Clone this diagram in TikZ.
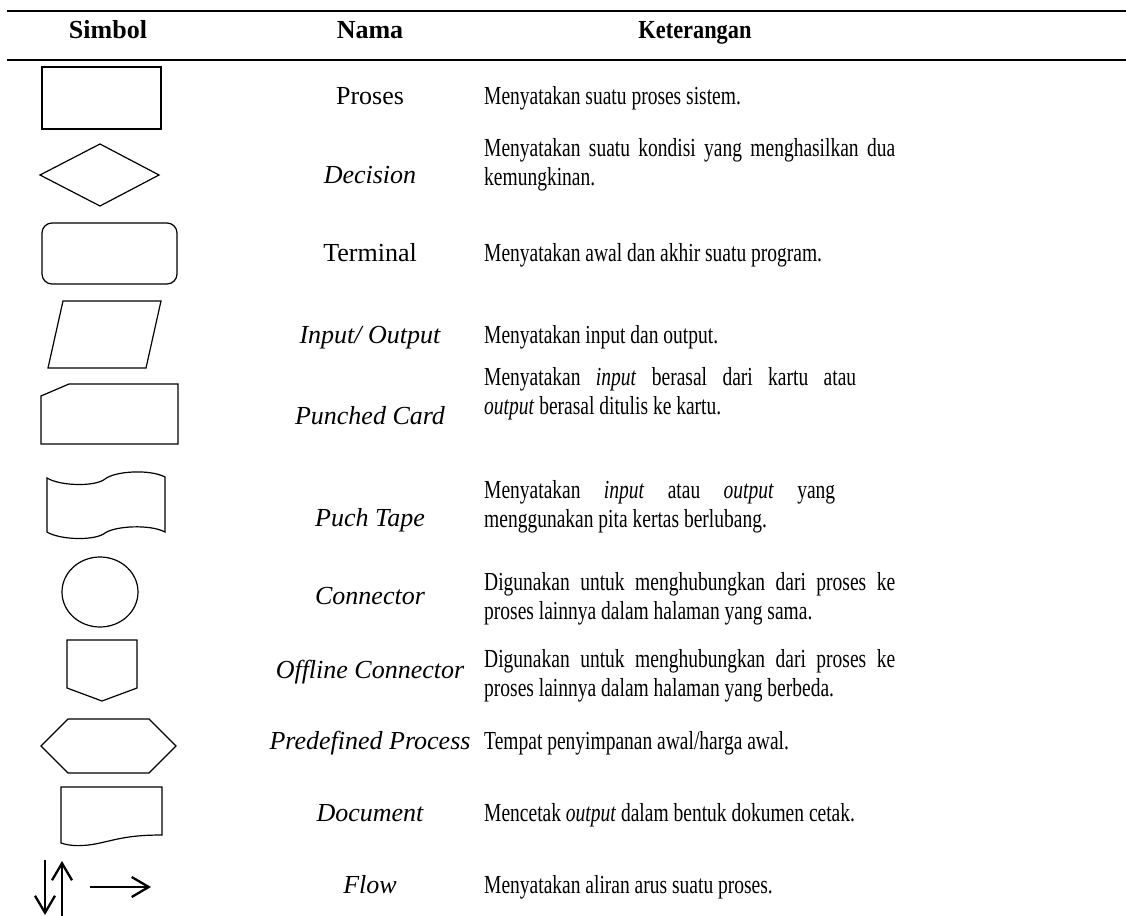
\documentclass[tikz,border=0pt]{standalone}
\usepackage{fontspec}
\setmainfont{Liberation Serif}
\usetikzlibrary{arrows.meta}
% condensed description text: #1 = box width, #2 = text
\newcommand\narrowpar[2]{\scalebox{0.75}[1]{\parbox[t]{#1pt}{#2}}}
\newcommand\narrowline[1]{\scalebox{0.75}[1]{#1}}
\begin{document}
\begin{tikzpicture}[x=1pt,y=-1pt,
  sym/.style={draw=black, line width=1.2pt, line join=miter},
  tablerule/.style={line width=2.4pt},
  flowarrow/.style={line width=2.3pt, -{Straight Barb[length=17pt,width=20pt,line width=2.3pt]}},
  headtext/.style={font=\fontsize{26}{29}\selectfont\bfseries, anchor=base, inner sep=0pt},
  nametext/.style={font=\fontsize{26}{29}\selectfont, anchor=base, inner sep=0pt},
  desctext/.style={font=\fontsize{26}{29}\selectfont, anchor=base west, inner sep=0pt},
]
\useasboundingbox (0,0) rectangle (1126,915);

% table rules
\coordinate (r1a) at (7,11);  \coordinate (r1b) at (1126,11);
\coordinate (r2a) at (7,60);  \coordinate (r2b) at (1126,60);
\draw[tablerule] (r1a) -- (r1b);
\draw[tablerule] (r2a) -- (r2b);

% header
\node[headtext] (hsym) at (108,39) {Simbol};
\node[headtext] (hname) at (370,39) {Nama};
\node[headtext] (hdesc) at (695,39) {\scalebox{0.86}[1]{Keterangan}};

% symbols
\draw[sym] (42,67) rectangle (161,129);
\draw[sym] (100,144) -- (159,175) -- (100,206) -- (40,175) -- cycle;
\draw[sym, rounded corners=10pt] (42,223) rectangle (177,284);
\draw[sym] (63,301) -- (161,301) -- (146,368) -- (48,368) -- cycle;
\draw[sym] (41,396) -- (69,384) -- (178,384) -- (178,444) -- (41,444) -- cycle;
\draw[sym] (47,478) .. controls (60,486) and (95,487) .. (105,479)
  .. controls (115,471) and (150,469) .. (165,477) -- (165,532)
  .. controls (150,524) and (115,526) .. (105,533)
  .. controls (95,541) and (60,540) .. (47,532) -- cycle;
\draw[sym] (100,592) ellipse [x radius=38pt, y radius=35pt];
\draw[sym] (67,640) -- (137,640) -- (137,688) -- (102,701) -- (67,688) -- cycle;
\draw[sym] (41,746) -- (68,719) -- (149,719) -- (176,746) -- (149,773) -- (68,773) -- cycle;
\draw[sym] (61,843) -- (61,787) -- (162,787) -- (162,835)
  .. controls (130,835) and (118,839) .. (100,843)
  .. controls (82,847) and (70,846) .. (61,843) -- cycle;

% flow arrows
\coordinate (fd1) at (45,860);  \coordinate (fd2) at (45,915);
\coordinate (fu1) at (62,918);  \coordinate (fu2) at (62,861);
\coordinate (fr1) at (90,887);  \coordinate (fr2) at (151,887);
\draw[flowarrow] (fd1) -- (fd2);
\draw[flowarrow] (fu1) -- (fu2);
\draw[flowarrow] (fr1) -- (fr2);

% names
\node[nametext] (n1) at (370,105) {Proses};
\node[nametext] (n2) at (370,183) {\itshape Decision};
\node[nametext] (n3) at (370,261) {Terminal};
\node[nametext] (n4) at (370,343) {\itshape Input/ Output};
\node[nametext] (n5) at (370,424) {\itshape Punched Card};
\node[nametext] (n6) at (370,526) {\itshape Puch Tape};
\node[nametext] (n7) at (370,604) {\itshape Connector};
\node[nametext] (n8) at (370,678) {\itshape Offline Connector};
\node[nametext] (n9) at (370,749) {\itshape Predefined Process};
\node[nametext] (n10) at (370,821) {\itshape Document};
\node[nametext] (n11) at (370,893) {\itshape Flow};

% descriptions
\node[desctext] (d1) at (484,105) {\narrowline{Menyatakan suatu proses sistem.}};
\node[desctext] (d2) at (484,156) {\narrowpar{548}{Menyatakan suatu kondisi yang menghasilkan dua\linebreak kemungkinan.}};
\node[desctext] (d3) at (484,261) {\narrowline{Menyatakan awal dan akhir suatu program.}};
\node[desctext] (d4) at (484,343) {\narrowline{Menyatakan input dan output.}};
\node[desctext] (d5) at (484,385) {\narrowpar{496}{Menyatakan \textit{input} berasal dari kartu atau\linebreak \textit{output} berasal ditulis ke kartu.}};
\node[desctext] (d6) at (484,498) {\narrowpar{468}{Menyatakan \textit{input} atau \textit{output} yang\linebreak menggunakan pita kertas berlubang.}};
\node[desctext] (d7) at (484,590) {\narrowpar{548}{Digunakan untuk menghubungkan dari proses ke\linebreak proses lainnya dalam halaman yang sama.}};
\node[desctext] (d8) at (484,667) {\narrowpar{548}{Digunakan untuk menghubungkan dari proses ke\linebreak proses lainnya dalam halaman yang berbeda.}};
\node[desctext] (d9) at (484,749) {\narrowline{Tempat penyimpanan awal/harga awal.}};
\node[desctext] (d10) at (484,821) {\narrowline{Mencetak \textit{output} dalam bentuk dokumen cetak.}};
\node[desctext] (d11) at (484,893) {\narrowline{Menyatakan aliran arus suatu proses.}};
\end{tikzpicture}
\end{document}
